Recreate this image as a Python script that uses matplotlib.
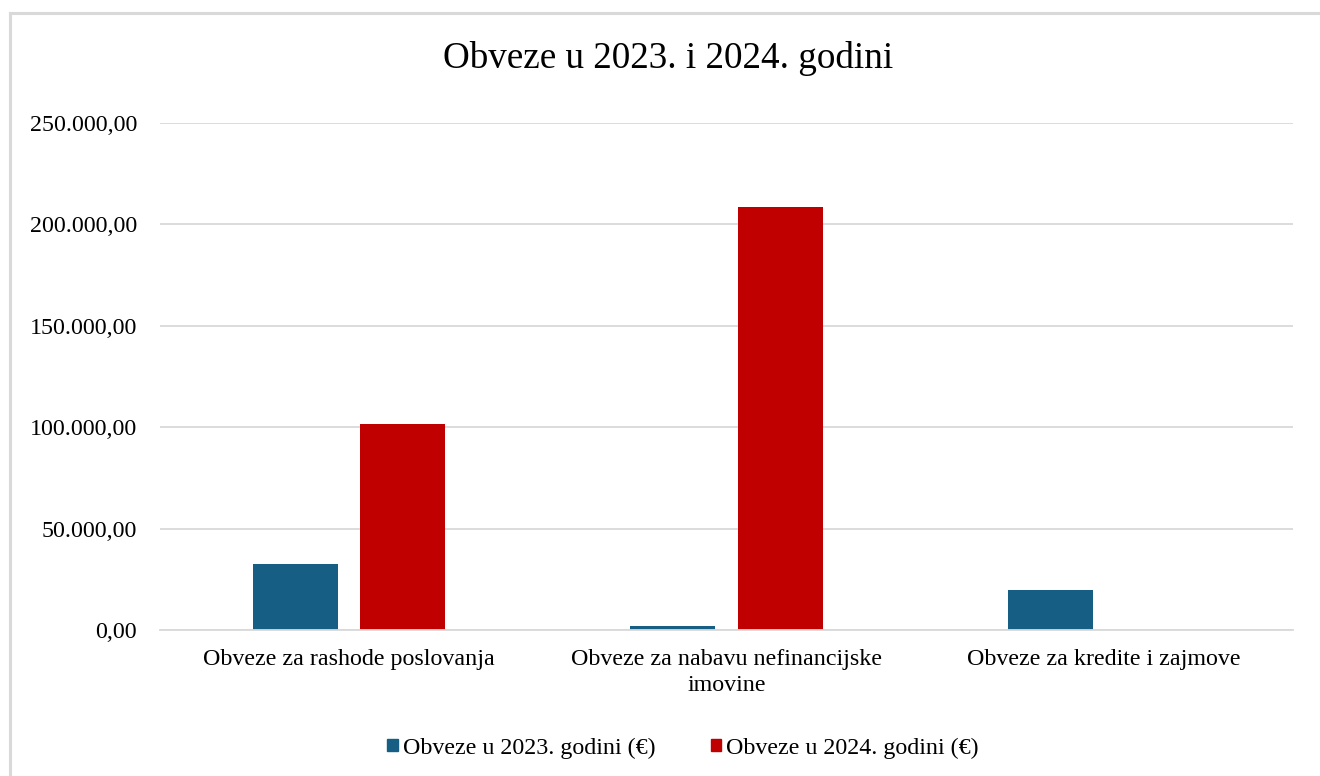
import matplotlib
matplotlib.use("Agg")
import matplotlib.pyplot as plt
import numpy as np
from matplotlib.ticker import FuncFormatter
from matplotlib.patches import Rectangle
from matplotlib.lines import Line2D

categories = ["Obveze za rashode poslovanja",
              "Obveze za nabavu nefinancijske\nimovine",
              "Obveze za kredite i zajmove"]
series_names = ["Obveze u 2023. godini (€)", "Obveze u 2024. godini (€)"]
values_2023 = [32500, 1800, 19700]
values_2024 = [101500, 208800, 0]
colors = ["#165e83", "#c00000"]
title = "Obveze u 2023. i 2024. godini"

plt.rcParams['font.family'] = ['Liberation Serif', 'DejaVu Serif']

fig = plt.figure(figsize=(13.2, 7.76), dpi=100)
ax = fig.add_axes([160/1320, 1-630/776, (1293-160)/1320, (630-123)/776])

x = np.arange(len(categories))
w = 0.225
off = 0.1425
ax.bar(x - off, values_2023, width=w, color=colors[0], zorder=3)
ax.bar(x + off, values_2024, width=w, color=colors[1], zorder=3)

ax.set_xlim(-0.5, 2.5)
ax.set_ylim(0, 250000)
ax.set_yticks(np.arange(0, 250001, 50000))

def fmt(v, pos):
    s = f"{v:,.2f}"
    return s.replace(",", "X").replace(".", ",").replace("X", ".")
ax.yaxis.set_major_formatter(FuncFormatter(fmt))
ax.grid(axis='y', color='#d9d9d9', linewidth=1.3, zorder=0)
for s in ['top', 'right', 'left']:
    ax.spines[s].set_visible(False)
ax.spines['bottom'].set_color('#d9d9d9')
ax.spines['bottom'].set_linewidth(1.3)
ax.spines['bottom'].set_zorder(4)
ax.tick_params(axis='both', length=0, labelsize=17.3, colors='#000000')
ax.tick_params(axis='y', pad=16.5)
ax.tick_params(axis='x', pad=14)
ax.set_xticks(x)
ax.set_xticklabels(categories, linespacing=1.3)

fig.text(668/1320, 1-58.5/776, title, ha='center', va='center', fontsize=26.7)

handles = [Rectangle((0, 0), 1, 1, color=c) for c in colors]
fig.legend(handles, series_names, loc='center', bbox_to_anchor=(683/1320, 1-748/776),
           ncol=2, frameon=False, fontsize=17.3, handlelength=0.45, handleheight=0.45,
           handletextpad=0.2, columnspacing=2.3)

# outer frame
fig.add_artist(Line2D([10/1320, 10/1320], [0, 1-13/776], transform=fig.transFigure,
                      color='#d9d9d9', linewidth=2.2))
fig.add_artist(Line2D([10/1320, 1], [1-13/776, 1-13/776], transform=fig.transFigure,
                      color='#d9d9d9', linewidth=2.2))

fig.savefig("out.png", dpi=100, facecolor='white')
